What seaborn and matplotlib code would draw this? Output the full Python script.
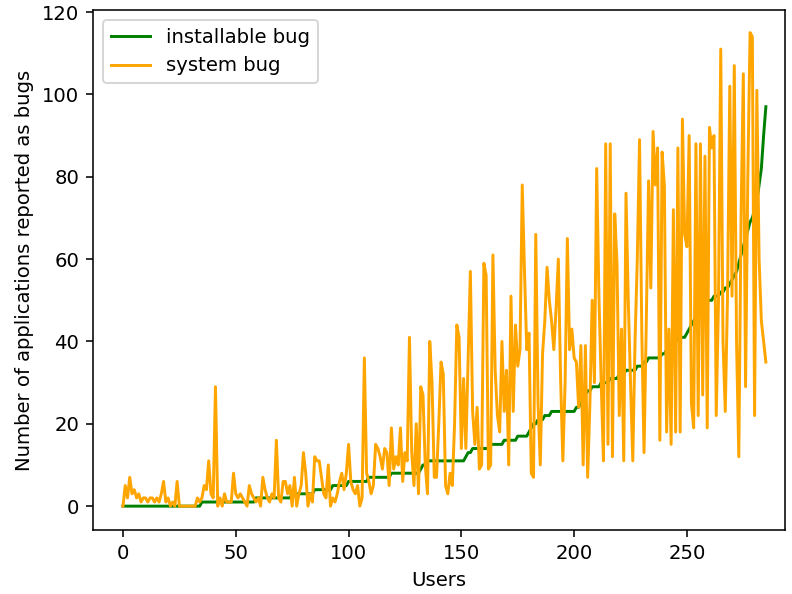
import matplotlib
matplotlib.use("Agg")
import matplotlib.pyplot as plt
import seaborn as sns
import numpy as np

installable_bug = [
    0, 0, 0, 0, 0, 0, 0, 0, 0, 0,
    0, 0, 0, 0, 0, 0, 0, 0, 0, 0,
    0, 0, 0, 0, 0, 0, 0, 0, 0, 0,
    0, 0, 0, 0, 0, 1, 1, 1, 1, 1,
    1, 1, 1, 1, 1, 1, 1, 1, 1, 1,
    1, 1, 1, 1, 1, 1, 1, 1, 1, 2,
    2, 2, 2, 2, 2, 2, 2, 2, 2, 2,
    2, 2, 2, 2, 2, 3, 3, 3, 3, 3,
    3, 3, 3, 3, 3, 4, 4, 4, 4, 4,
    4, 4, 4, 5, 5, 5, 5, 5, 5, 5,
    6, 6, 6, 6, 6, 6, 6, 6, 6, 7,
    7, 7, 7, 7, 7, 7, 7, 7, 7, 8,
    8, 8, 8, 8, 8, 8, 8, 8, 8, 8,
    8, 8, 9, 10, 10, 11, 11, 11, 11, 11,
    11, 11, 11, 11, 11, 11, 11, 11, 11, 11,
    11, 11, 12, 13, 13, 14, 14, 14, 14, 14,
    14, 14, 14, 15, 15, 15, 15, 15, 15, 16,
    16, 16, 16, 16, 16, 17, 17, 17, 17, 17,
    18, 19, 20, 20, 21, 21, 21, 22, 22, 22,
    23, 23, 23, 23, 23, 23, 23, 23, 23, 23,
    23, 24, 24, 25, 26, 27, 28, 28, 29, 29,
    29, 29, 30, 30, 30, 30, 31, 31, 31, 31,
    32, 32, 32, 33, 33, 33, 33, 33, 34, 34,
    34, 35, 35, 36, 36, 36, 36, 36, 36, 37,
    37, 38, 38, 39, 40, 40, 41, 41, 41, 41,
    42, 43, 44, 45, 46, 47, 47, 48, 49, 50,
    50, 50, 51, 51, 51, 52, 52, 53, 53, 54,
    55, 56, 57, 59, 61, 63, 65, 67, 69, 70,
    72, 74, 78, 82, 90, 97,
]

system_bug = [
    0, 5, 2, 7, 3, 4, 2, 3, 1, 2,
    2, 1, 2, 2, 1, 2, 1, 3, 6, 1,
    2, 0, 1, 0, 6, 0, 0, 0, 0, 0,
    0, 0, 0, 2, 1, 2, 5, 4, 11, 3,
    2, 29, 0, 2, 0, 3, 1, 1, 1, 8,
    3, 2, 3, 2, 1, 0, 5, 3, 2, 1,
    2, 0, 7, 4, 2, 1, 3, 2, 16, 2,
    1, 6, 6, 3, 5, 0, 7, 0, 3, 5,
    13, 8, 0, 3, 1, 12, 11, 11, 7, 3,
    2, 10, 0, 2, 1, 3, 6, 8, 4, 8,
    15, 6, 4, 3, 5, 0, 2, 36, 8, 6,
    3, 5, 15, 14, 12, 9, 14, 13, 5, 19,
    9, 12, 10, 19, 6, 13, 11, 41, 13, 5,
    20, 3, 29, 27, 10, 3, 40, 30, 7, 7,
    20, 35, 32, 5, 3, 8, 5, 20, 44, 41,
    14, 31, 14, 35, 57, 23, 15, 24, 9, 10,
    59, 56, 9, 10, 61, 33, 22, 18, 40, 23,
    33, 10, 51, 23, 44, 34, 38, 78, 57, 38,
    42, 8, 7, 66, 25, 10, 37, 45, 58, 50,
    45, 38, 48, 60, 31, 11, 30, 65, 38, 43,
    36, 35, 24, 39, 10, 39, 7, 25, 50, 30,
    82, 51, 30, 11, 88, 15, 88, 12, 71, 59,
    22, 43, 11, 76, 50, 30, 11, 40, 60, 89,
    42, 13, 45, 79, 53, 91, 78, 87, 16, 86,
    78, 18, 43, 15, 72, 18, 87, 18, 94, 66,
    63, 90, 25, 19, 88, 22, 88, 27, 85, 19,
    92, 87, 90, 22, 50, 111, 40, 23, 51, 102,
    51, 107, 40, 12, 70, 105, 29, 80, 115, 114,
    22, 101, 60, 45, 40, 35,
]

users = list(range(len(installable_bug)))

fig, ax = plt.subplots(figsize=(5.6, 4.2), dpi=141.43)
sns.lineplot(x=users, y=installable_bug, color="green", label="installable bug", ax=ax)
sns.lineplot(x=users, y=system_bug, color="orange", label="system bug", ax=ax)
ax.set_xlabel("Users")
ax.set_ylabel("Number of applications reported as bugs")
ax.legend(loc="upper left")
ax.set_xlim(-13.3, 293.5)
ax.set_ylim(-5.8, 120.5)
fig.subplots_adjust(left=0.1174, right=0.9912, top=0.9832, bottom=0.1077)
fig.savefig("out.png")
